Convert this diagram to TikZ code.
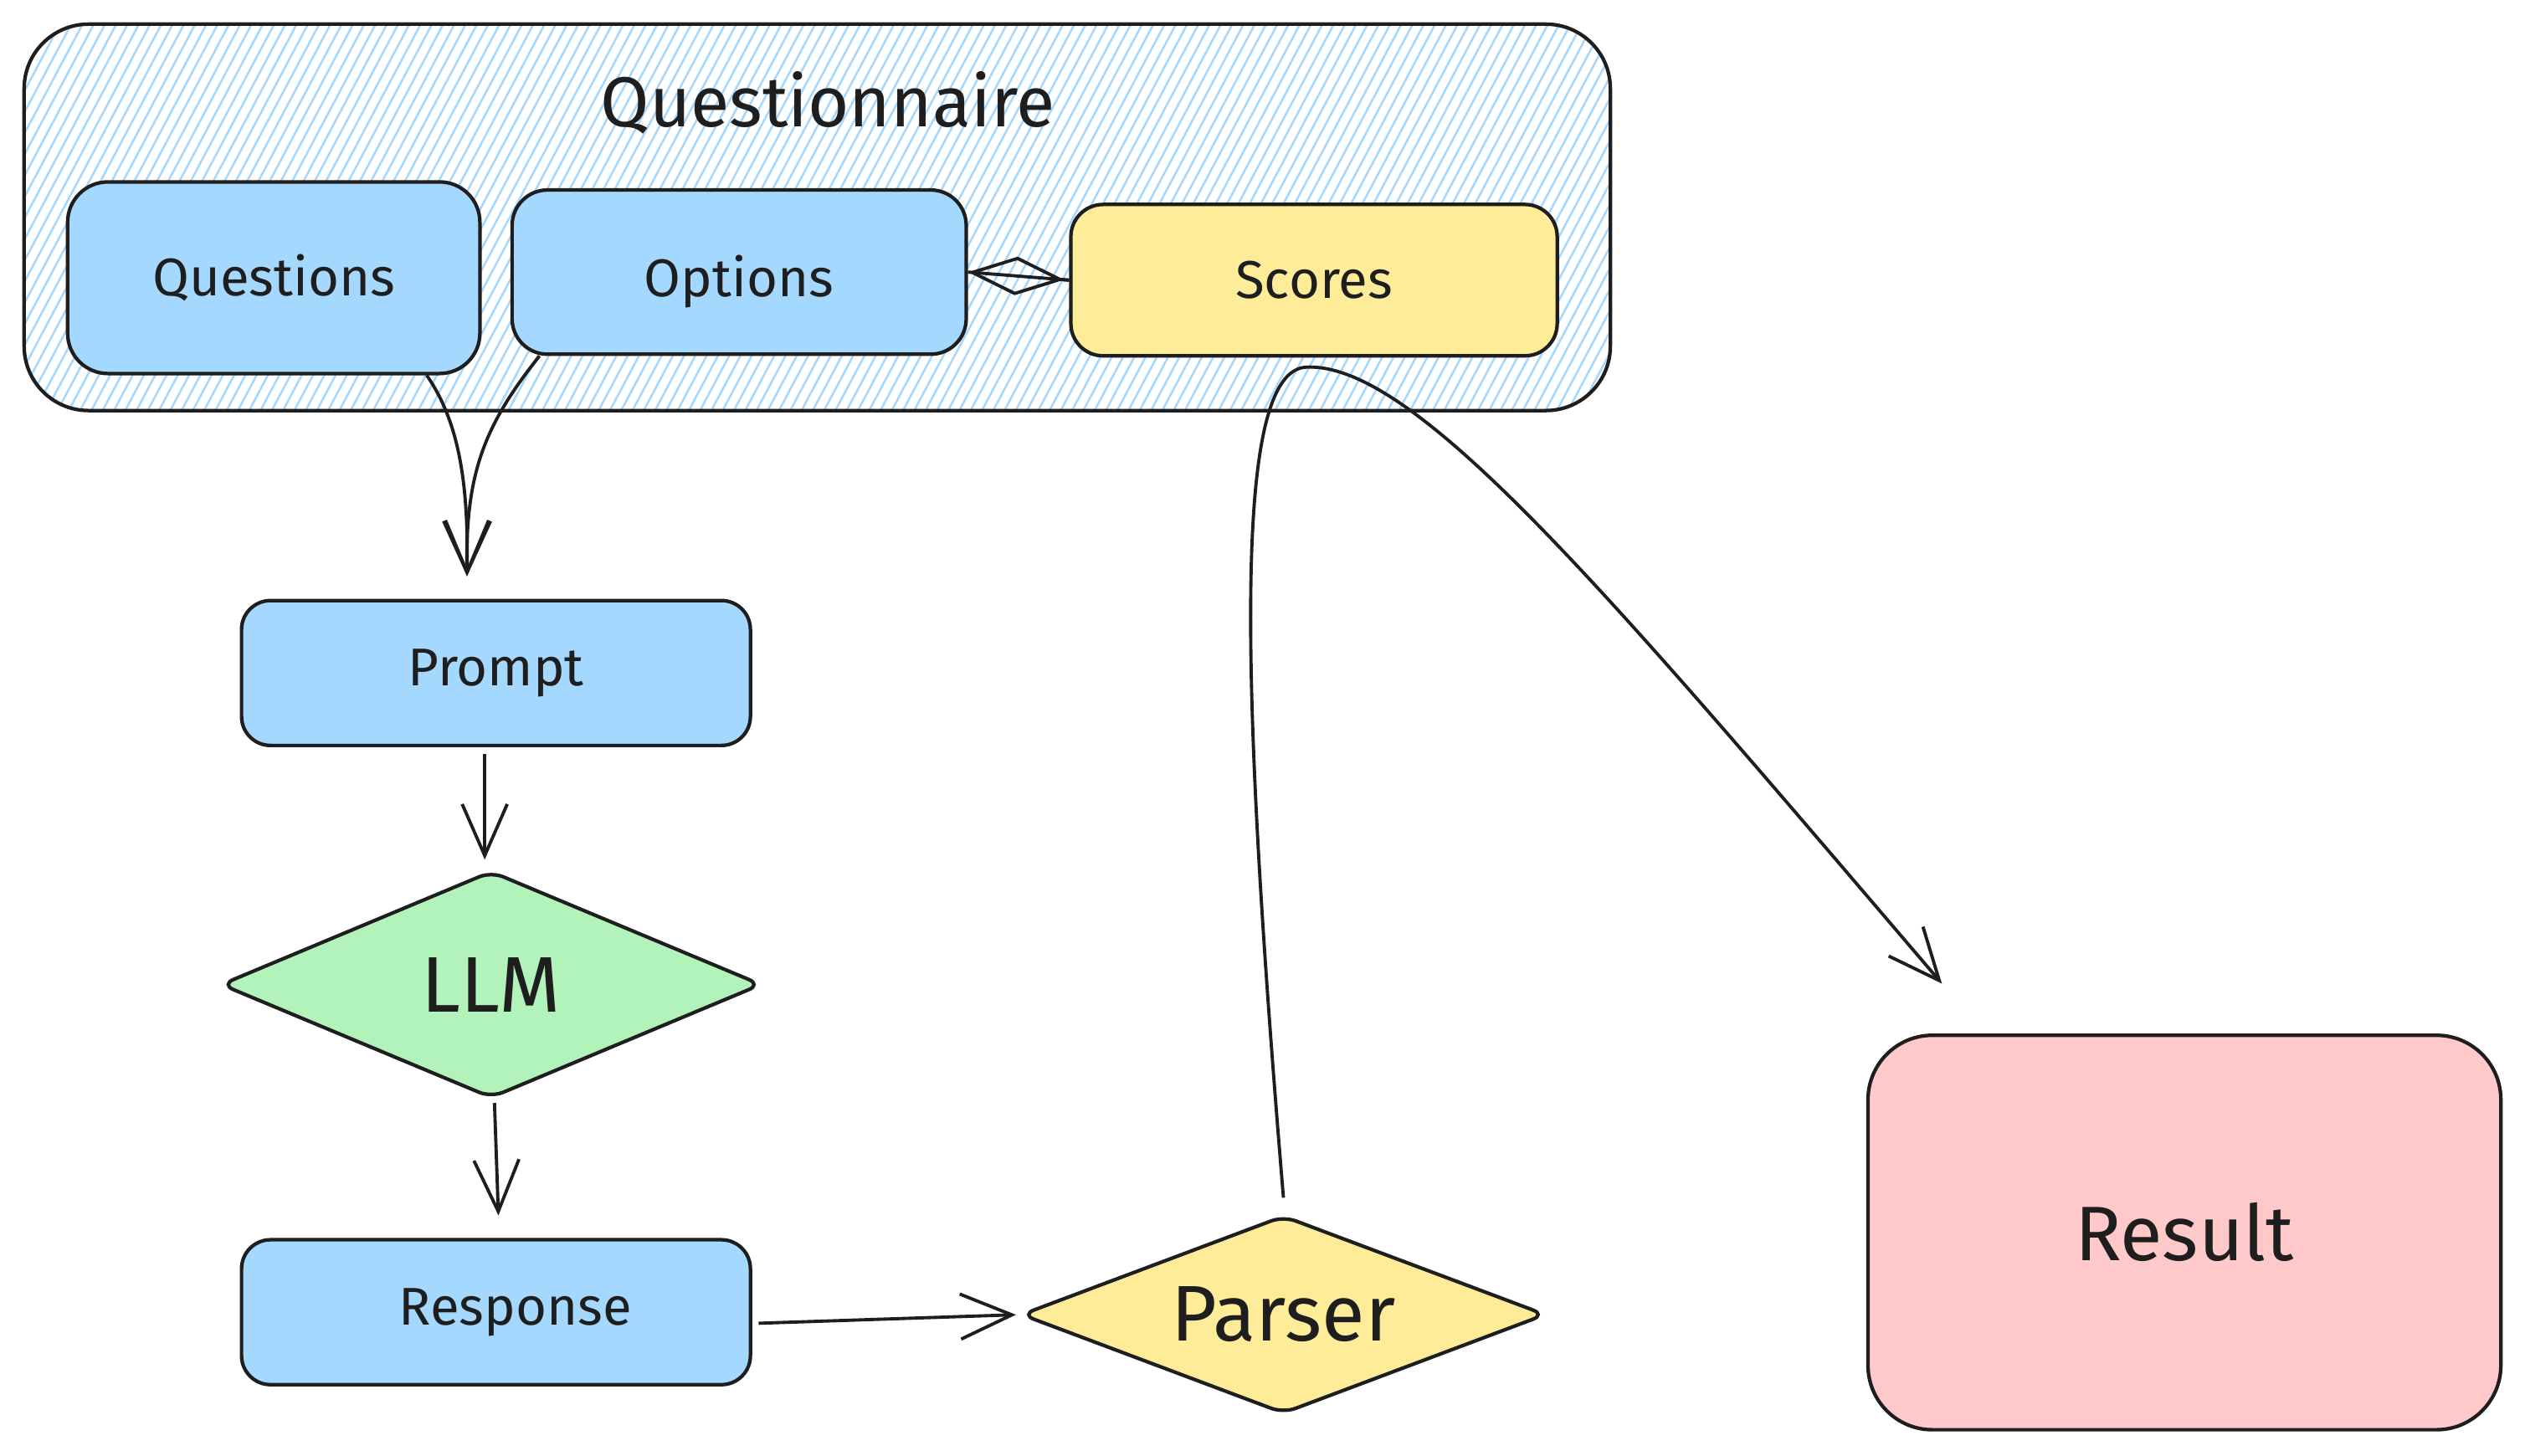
\documentclass[tikz,border=0pt]{standalone}
\usepackage{fontspec}
\setmainfont{Fira Sans}
\usetikzlibrary{arrows.meta,shapes.geometric}
\definecolor{ink}{HTML}{1E1E1E}
\definecolor{bluef}{HTML}{A5D8FF}
\definecolor{greenf}{HTML}{B2F2BB}
\definecolor{yellowf}{HTML}{FFEC99}
\definecolor{redf}{HTML}{FFC9C9}
\tikzset{
  box/.style={draw=ink, line width=2.2pt, rounded corners=18pt, inner sep=0pt, font=\fontsize{33}{40}\selectfont, text=ink},
  dia/.style={diamond, draw=ink, line width=2.2pt, rounded corners=8pt, inner sep=0pt, font=\fontsize{49}{58}\selectfont, text=ink},
  conn/.style={draw=ink, line width=2pt},
  arr/.style={conn, -{Straight Barb[length=32pt,width=28pt]}},
  hatch/.style={draw=bluef, line width=1.3pt},
}
\begin{document}
\begin{tikzpicture}[x=1pt,y=-1pt]
\useasboundingbox (0,0) rectangle (1568,904);
\fill[white] (0,0) rectangle (1568,904);
% container hatching
\begin{scope}
  \clip[rounded corners=40pt] (15,15) rectangle (1000,255);
  \foreach \i in {0,...,166} \draw[hatch] ({-150+7*\i},262) -- ({-15+7*\i},8);
\end{scope}
\node[draw=ink, line width=2.2pt, rounded corners=40pt, minimum width=985pt, minimum height=240pt, inner sep=0pt] (cont) at (507.5,135) {};
\node[font=\fontsize{44}{52}\selectfont, text=ink] (title) at (514,64) {Questionnaire};
% inner boxes
\node[box, fill=bluef, minimum width=256pt, minimum height=119pt, rounded corners=25pt] (questions) at (170,172.5) {Questions};
\node[box, fill=bluef, minimum width=282pt, minimum height=102pt, rounded corners=22pt] (options) at (459,169) {\raisebox{-6pt}[\height][\depth]{Options}};
\node[box, fill=yellowf, minimum width=302pt, minimum height=94pt, rounded corners=20pt] (scores) at (816,174) {Scores};
% flow
\node[box, fill=bluef, minimum width=316pt, minimum height=90pt] (prompt) at (308,418) {Prompt};
\node[dia, fill=greenf, minimum width=336pt, minimum height=141pt, aspect=2.4] (llm) at (305,611.5) {LLM};
\node[box, fill=bluef, minimum width=316pt, minimum height=90pt] (response) at (308,815) {\hspace*{24pt}Response};
\node[dia, fill=yellowf, minimum width=326pt, minimum height=123pt, aspect=2.65] (parser) at (797,816.5) {Parser};
\node[box, fill=redf, minimum width=393pt, minimum height=245pt, rounded corners=40pt, font=\fontsize{48}{56}\selectfont] (result) at (1356.5,765.5) {Result};
% connectors
\draw[arr] ([xshift=95pt]questions.south) .. controls (285,262) and (291,300) .. ([xshift=-18pt,yshift=14pt]prompt.north);
\draw[arr] ([xshift=-124pt]options.south) .. controls (300,265) and (289,295) .. ([xshift=-18pt,yshift=14pt]prompt.north);
\draw[arr, shorten <=4pt, shorten >=6pt] ([xshift=-7pt]prompt.south) -- ([xshift=-4pt]llm.north);
\draw[arr, shorten <=2pt, shorten >=14pt] ([xshift=2pt]llm.south) -- ([xshift=2pt]response.north);
\draw[arr, shorten <=4pt, shorten >=2pt] ([yshift=-7pt]response.east) -- (parser.west);
\draw[conn] (options.east) -- (scores.west);
\draw[conn, {Diamond[open,length=60pt,width=24pt]}-] (options.east) -- (scores.west);
\coordinate (via) at (812,228);
\draw[arr] ([yshift=10pt]parser.north) .. controls (770,420) and (765,228) .. (via) .. controls (880,226) and (1000,370) .. ([xshift=47pt,yshift=31pt]result.north west);
\end{tikzpicture}
\end{document}
